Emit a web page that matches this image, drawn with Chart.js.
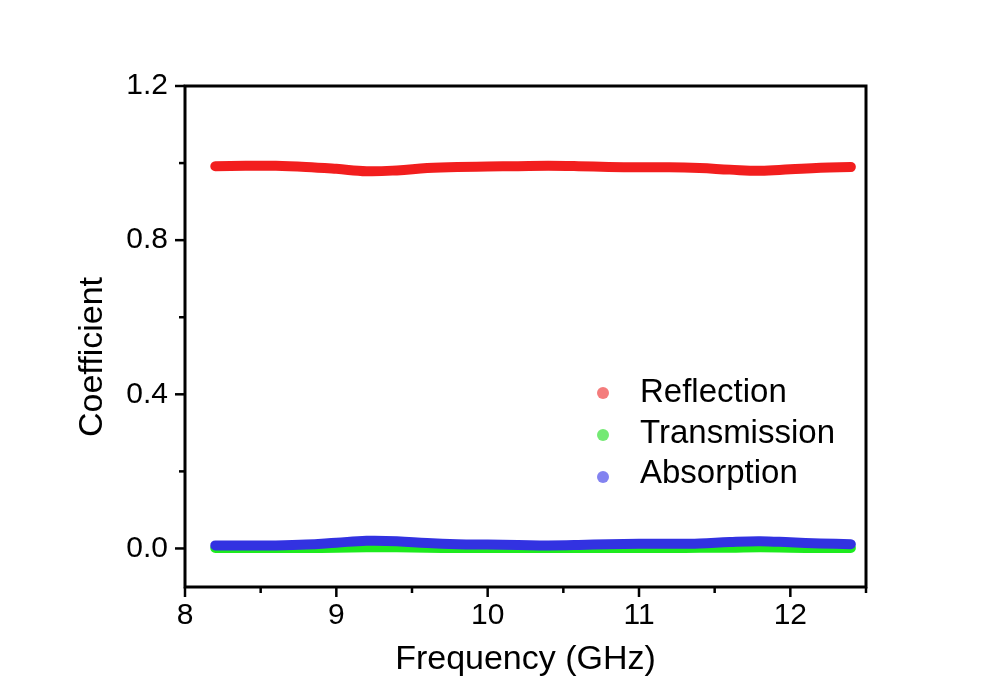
<!DOCTYPE html>
<html lang="en">
  <head>
    <meta charset="UTF-8" />
    <title>Coefficient vs Frequency</title>
    <script src="https://cdn.jsdelivr.net/npm/chart.js@4.5.0/dist/chart.umd.min.js"></script>
    <style>
      body { margin: 0; background: #fff; }
      #wrap { width: 994px; height: 695px; }
    </style>
  </head>
  <body>
    <div id="wrap"><canvas id="myChart" width="994" height="695"></canvas></div>

    <script>
      // data (GHz, coefficient)
      const freq = [8.2, 8.4, 8.6, 8.8, 9.0, 9.2, 9.4, 9.6, 9.8, 10.0, 10.2,
                    10.4, 10.6, 10.8, 11.0, 11.2, 11.4, 11.6, 11.8, 12.0, 12.2, 12.4];
      const reflection = [0.992, 0.993, 0.993, 0.990, 0.985, 0.979, 0.981, 0.987, 0.990, 0.991, 0.992,
                          0.993, 0.992, 0.990, 0.989, 0.989, 0.987, 0.983, 0.980, 0.984, 0.988, 0.990];
      const transmission = [0.001, 0.001, 0.001, 0.001, 0.002, 0.003, 0.003, 0.002, 0.001, 0.001, 0.001,
                            0.001, 0.001, 0.001, 0.001, 0.001, 0.002, 0.002, 0.003, 0.002, 0.001, 0.001];
      const absorption = [0.008, 0.008, 0.008, 0.010, 0.015, 0.020, 0.019, 0.014, 0.011, 0.010, 0.009,
                          0.008, 0.009, 0.011, 0.012, 0.012, 0.013, 0.017, 0.019, 0.016, 0.013, 0.011];
      const xTicks = [8, 8.5, 9, 9.5, 10, 10.5, 11, 11.5, 12, 12.5];
      const yTicks = [0, 0.2, 0.4, 0.6, 0.8, 1.0, 1.2];

      const FONT = "Arial, 'Liberation Sans', sans-serif";

      function series(label, ys, color, legendColor, order) {
        return {
          label: label,
          data: freq.map((f, i) => ({ x: f, y: ys[i] })),
          borderColor: color,
          legendColor: legendColor,
          borderWidth: 10,
          borderCapStyle: "round",
          borderJoinStyle: "round",
          tension: 0.4,
          pointRadius: 0,
          fill: false,
          order: order,
        };
      }

      // frame, minor/major ticks, y title and the in-plot legend
      const decor = {
        id: "decor",
        afterDraw(chart) {
          const c = chart.ctx;
          const a = chart.chartArea;
          c.save();
          c.strokeStyle = "#000";
          c.lineWidth = 3;
          c.strokeRect(a.left, a.top, a.right - a.left, a.bottom - a.top);

          c.lineWidth = 2.5;
          const xs = chart.scales.x;
          xTicks.forEach((v) => {
            const px = xs.getPixelForValue(v);
            const len = Number.isInteger(v) ? 10 : 6;
            c.beginPath();
            c.moveTo(px, a.bottom);
            c.lineTo(px, a.bottom + len);
            c.stroke();
          });
          const ys = chart.scales.y;
          yTicks.forEach((v) => {
            const py = ys.getPixelForValue(v);
            const major = Math.round(v * 10) % 4 === 0;
            const len = major ? 10 : 6;
            c.beginPath();
            c.moveTo(a.left, py);
            c.lineTo(a.left - len, py);
            c.stroke();
          });

          // y axis title
          c.fillStyle = "#000";
          c.font = "34px " + FONT;
          c.textAlign = "center";
          c.textBaseline = "alphabetic";
          c.translate(102, 357);
          c.rotate(-Math.PI / 2);
          c.fillText("Coefficient", 0, 0);
          c.setTransform(1, 0, 0, 1, 0, 0);

          // legend
          c.font = "33px " + FONT;
          c.textAlign = "left";
          chart.data.datasets.forEach((ds, i) => {
            c.fillStyle = ds.legendColor;
            c.beginPath();
            c.arc(603, 393 + i * 42, 6, 0, Math.PI * 2);
            c.fill();
            c.fillStyle = "#000";
            c.fillText(ds.label, 640, 402 + i * 40.5);
          });
          c.restore();
        },
      };

      const ctx = document.getElementById("myChart");
      new Chart(ctx, {
        type: "line",
        data: {
          datasets: [
            series("Reflection", reflection, "rgb(242,30,30)", "rgba(240,80,80,0.75)", 2),
            series("Transmission", transmission, "rgb(30,235,30)", "rgba(70,225,70,0.75)", 1),
            series("Absorption", absorption, "rgb(50,50,225)", "rgba(90,90,235,0.75)", 0),
          ],
        },
        options: {
          responsive: false,
          animation: false,
          layout: { padding: { top: 86, right: 128, left: 0, bottom: 0 } },
          plugins: { legend: { display: false }, tooltip: { enabled: false } },
          scales: {
            x: {
              type: "linear",
              min: 8,
              max: 12.5,
              afterBuildTicks: (s) => { s.ticks = xTicks.map((v) => ({ value: v })); },
              afterFit: (s) => { s.height = 108; },
              grid: { display: false, drawTicks: false },
              border: { display: false },
              ticks: {
                padding: 11,
                color: "#000",
                font: { family: FONT, size: 30 },
                autoSkip: false,
                maxRotation: 0,
                callback: (v) => (Number.isInteger(v) ? String(v) : ""),
              },
              title: {
                display: true,
                text: "Frequency (GHz)",
                color: "#000",
                font: { family: FONT, size: 34 },
                padding: { top: 0, bottom: 15 },
              },
            },
            y: {
              min: -0.1,
              max: 1.2,
              afterBuildTicks: (s) => { s.ticks = yTicks.map((v) => ({ value: v })); },
              afterFit: (s) => { s.width = 185; },
              grid: { display: false, drawTicks: false },
              border: { display: false },
              ticks: {
                padding: 17,
                color: "#000",
                font: { family: FONT, size: 30 },
                autoSkip: false,
                callback: (v) => (Math.round(v * 10) % 4 === 0 ? v.toFixed(1) : ""),
              },
            },
          },
        },
        plugins: [decor],
      });
    </script>
  </body>
</html>
